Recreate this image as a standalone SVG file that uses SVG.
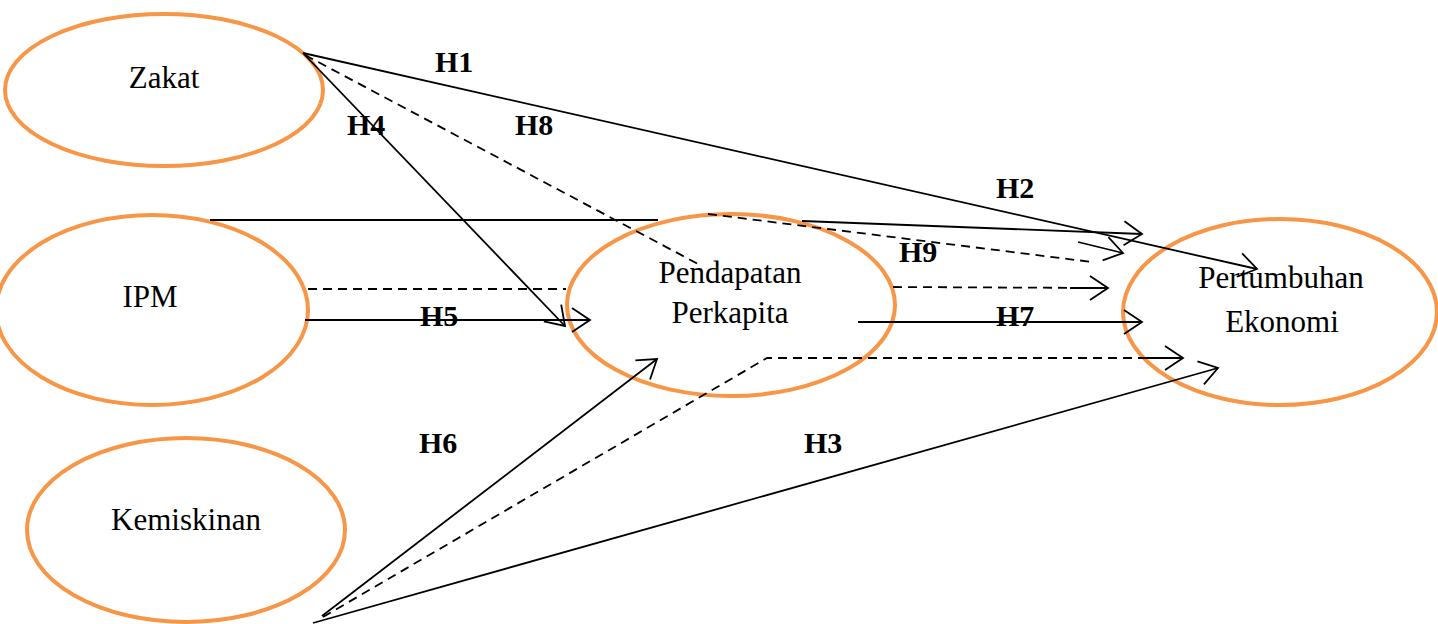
<svg xmlns="http://www.w3.org/2000/svg" width="1438" height="624" viewBox="0 0 1438 624">
<style>
.node{fill:#fff;stroke:#F79646;stroke-width:4}
.lbl{font-family:"Liberation Serif","Times New Roman",serif;font-size:31px;fill:#000;text-anchor:middle}
.h{font-family:"Liberation Serif","Times New Roman",serif;font-size:30px;font-weight:bold;fill:#000}
.ln{fill:none;stroke:#000;stroke-width:1.8}
.dash{stroke-dasharray:9 6}
</style>
<defs>
<marker id="arr" markerUnits="userSpaceOnUse" markerWidth="30" markerHeight="30" refX="20" refY="12" orient="auto" overflow="visible">
<path d="M2,0 L20,12 L2,24" fill="none" stroke="#000" stroke-width="1.8"/>
</marker>
</defs>
<rect width="1438" height="624" fill="#fff"/>
<g id="zakat"><ellipse class="node" cx="164" cy="90" rx="159" ry="76"/><text class="lbl" x="164" y="88">Zakat</text></g>
<g id="ipm"><ellipse class="node" cx="152" cy="310" rx="156" ry="95"/><text class="lbl" x="150" y="307">IPM</text></g>
<g id="kemiskinan"><ellipse class="node" cx="186" cy="530" rx="159" ry="92"/><text class="lbl" x="186" y="530">Kemiskinan</text></g>
<g id="pendapatan"><ellipse class="node" cx="731" cy="305" rx="164" ry="91"/><text class="lbl" x="730" y="283">Pendapatan</text><text class="lbl" x="730" y="323">Perkapita</text></g>
<g id="pertumbuhan"><ellipse class="node" cx="1280" cy="312" rx="157" ry="93"/><text class="lbl" x="1281" y="288">Pertumbuhan</text><text class="lbl" x="1282" y="332">Ekonomi</text></g>
<g id="connectors">
<path class="ln" d="M303,53 L1257,269" marker-end="url(#arr)"/>
<path class="ln" d="M303,53 L565,326" marker-end="url(#arr)"/>
<path class="ln dash" d="M305,55 L700,265"/>
<path class="ln" d="M210,220 H658 M802,221 L1142,234" marker-end="url(#arr)"/>
<path class="ln dash" d="M708,214 L1092,262"/>
<path class="ln" d="M1078,242 L1123,253" marker-end="url(#arr)"/>
<path class="ln dash" d="M308,289 H566 M893,287 L1108,288"/>
<path class="ln" d="M1070,288 L1108,288" marker-end="url(#arr)"/>
<path class="ln" d="M305,320 L590,320" marker-end="url(#arr)"/>
<path class="ln" d="M858,322 L1142,322" marker-end="url(#arr)"/>
<path class="ln dash" d="M323,617 L767,358 L1150,358"/>
<path class="ln" d="M1140,358 L1183,358" marker-end="url(#arr)"/>
<path class="ln" d="M322,616 L657,359" marker-end="url(#arr)"/>
<path class="ln" d="M313,623 L1218,368" marker-end="url(#arr)"/>
</g>
<g id="labels">
<text class="h" x="435" y="72">H1</text>
<text class="h" x="996" y="198">H2</text>
<text class="h" x="804" y="453">H3</text>
<text class="h" x="347" y="135">H4</text>
<text class="h" x="420" y="326">H5</text>
<text class="h" x="419" y="453">H6</text>
<text class="h" x="996" y="326">H7</text>
<text class="h" x="515" y="135">H8</text>
<text class="h" x="899" y="262">H9</text>
</g>
</svg>
